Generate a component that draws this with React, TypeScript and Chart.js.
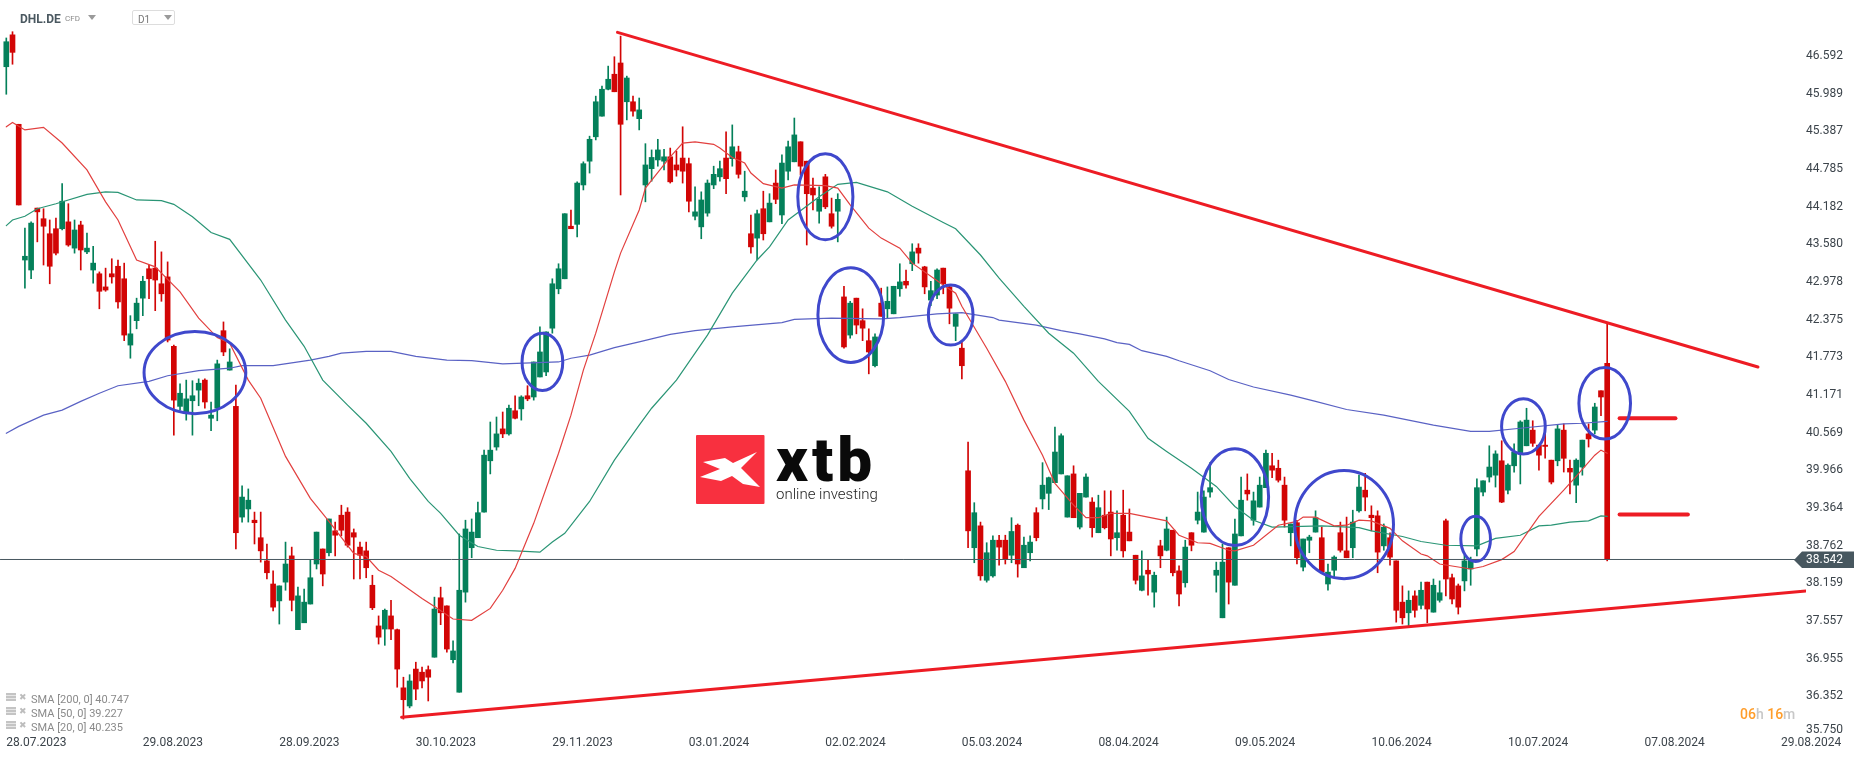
import { useEffect, useRef } from "react";
import Chart from "chart.js/auto";

// daily candles (index 0 = 28.07.2023)
const opens = [
  46.42, 46.93, 45.5, 43.33, 43.17, 44.16, 43.99, 43.75, 43.83, 43.83,
  43.94, 43.52, 43.89, 43.46, 43.17, 43.11, 42.9, 43.11, 43.23, 43.03,
  41.97, 42.36, 42.72, 43.19, 43.2, 42.95, 43.06, 41.95, 40.99, 40.88,
  41.08, 41.25, 41.41, 40.8, 40.96, 42.2, 41.57, 40.99, 39.22, 39.35,
  39.17, 38.89, 38.52, 38.15, 37.88, 38.18, 38.6, 37.42, 37.53, 37.83,
  38.47, 38.71, 38.65, 39.0, 39.25, 39.3, 38.97, 38.74, 38.68, 38.13,
  37.48, 37.43, 37.64, 37.42, 36.49, 36.2, 36.79, 36.74, 36.78, 36.98,
  37.93, 37.8, 36.94, 36.42, 38.02, 38.73, 38.89, 39.3, 40.12, 40.34,
  40.63, 40.55, 40.92, 40.95, 41.16, 41.14, 41.46, 41.54, 42.24, 42.87,
  43.03, 43.87, 43.9, 44.53, 44.91, 45.3, 45.63, 46.06, 46.3, 46.48,
  45.86, 45.86, 45.59, 44.53, 44.79, 44.93, 44.91, 44.98, 44.85, 44.96,
  44.87, 44.03, 43.86, 44.08, 44.53, 44.66, 44.96, 44.95, 45.06, 44.34,
  43.75, 43.68, 44.15, 43.94, 44.56, 44.05, 44.75, 44.9, 45.22, 44.91,
  44.48, 44.11, 44.66, 44.07, 44.11, 42.74, 42.13, 42.72, 42.36, 42.04,
  41.64, 42.64, 42.55, 42.47, 42.87, 42.99, 43.27, 43.52, 43.22, 42.69,
  42.77, 43.2, 42.9, 42.27, 41.92, 39.96, 38.73, 39.08, 38.21, 38.28,
  38.85, 38.85, 38.61, 39.09, 38.41, 38.65, 39.29, 39.51, 39.6, 39.77,
  39.91, 39.22, 39.91, 39.06, 39.54, 39.46, 38.97, 39.25, 39.3, 38.89,
  39.25, 38.98, 38.61, 38.05, 38.37, 38.02, 38.76, 38.69, 39.01, 38.36,
  38.17, 38.97, 39.17, 38.98, 39.62, 38.29, 37.61, 38.73, 38.13, 38.92,
  39.65, 39.17, 39.38, 39.69, 40.04, 40.0, 39.73, 38.97, 39.13, 38.42,
  38.85, 38.98, 38.89, 38.15, 38.37, 38.97, 38.68, 38.73, 39.32, 39.65,
  39.25, 39.24, 38.76, 38.89, 38.52, 37.86, 37.69, 37.96, 37.81, 38.18,
  37.7, 37.89, 39.16, 38.25, 38.12, 38.2, 38.39, 38.71, 39.62, 39.86,
  39.89, 40.12, 39.65, 40.04, 40.23, 40.36, 40.61, 40.37, 40.37, 40.13,
  40.12, 40.61, 40.0, 39.73, 40.02, 40.55, 40.61, 41.24, 41.68,
];
const highs = [
  46.88, 46.98, 45.5, 43.84, 43.94, 44.16, 44.15, 43.97, 44.0, 44.55,
  44.23, 43.97, 43.95, 43.76, 43.55, 43.14, 43.2, 43.35, 43.33, 43.28,
  42.44, 42.72, 43.07, 43.25, 43.63, 43.46, 43.3, 41.97, 41.35, 41.41,
  41.4, 41.43, 41.43, 41.06, 41.73, 42.34, 41.91, 41.33, 39.72, 39.67,
  39.3, 39.3, 38.79, 38.36, 38.12, 38.82, 38.74, 38.1, 38.07, 38.53,
  38.98, 38.71, 39.19, 39.14, 39.41, 39.37, 39.03, 38.82, 38.82, 38.29,
  37.64, 37.75, 37.89, 37.43, 36.66, 36.7, 36.9, 36.82, 36.84, 37.94,
  38.1, 37.8, 37.24, 38.95, 39.17, 39.19, 39.46, 40.29, 40.74, 40.82,
  40.9, 41.01, 41.16, 41.16, 41.32, 41.7, 42.26, 42.18, 43.03, 43.27,
  44.07, 44.13, 44.58, 44.9, 45.31, 45.95, 46.11, 46.43, 46.58, 46.91,
  46.27, 45.95, 45.92, 45.19, 45.09, 45.26, 45.1, 45.12, 45.07, 45.46,
  44.96, 44.5, 44.42, 44.61, 44.83, 44.91, 45.38, 45.49, 45.15, 44.75,
  44.05, 44.13, 44.43, 44.39, 44.77, 45.01, 45.23, 45.6, 45.22, 44.91,
  44.64, 44.5, 44.7, 44.32, 44.39, 42.91, 42.67, 42.72, 42.55, 42.23,
  42.15, 42.88, 42.9, 42.91, 43.27, 43.17, 43.59, 43.59, 43.23, 42.99,
  43.19, 43.2, 42.93, 42.47, 42.04, 40.42, 39.45, 39.14, 38.81, 38.92,
  38.93, 38.93, 39.21, 39.11, 38.9, 38.92, 39.37, 40.09, 39.86, 40.66,
  40.55, 39.88, 40.04, 39.6, 39.91, 39.53, 39.57, 39.64, 39.64, 39.32,
  39.65, 39.35, 38.61, 38.68, 38.53, 38.34, 38.85, 39.22, 39.01, 38.44,
  38.85, 38.97, 39.62, 39.64, 40.09, 38.5, 38.79, 38.73, 39.19, 39.86,
  39.91, 39.62, 39.86, 40.29, 40.24, 40.13, 39.86, 39.11, 39.17, 38.87,
  38.93, 39.32, 39.06, 38.47, 38.6, 39.14, 39.22, 39.33, 39.89, 39.92,
  39.4, 39.32, 39.11, 38.97, 38.52, 38.12, 38.04, 38.04, 38.18, 38.18,
  38.23, 38.2, 39.19, 38.31, 38.15, 38.61, 38.58, 39.83, 39.8, 40.36,
  40.28, 40.44, 40.07, 40.39, 40.76, 40.96, 40.76, 40.37, 40.61, 40.13,
  40.69, 40.71, 40.13, 40.15, 40.45, 40.71, 41.04, 41.24, 42.32,
];
const lows = [
  45.98, 46.46, 44.21, 42.88, 43.03, 43.62, 43.25, 42.95, 43.41, 43.81,
  43.55, 43.44, 43.17, 43.43, 42.96, 42.55, 42.83, 42.96, 42.56, 42.04,
  41.76, 42.23, 42.44, 42.71, 42.52, 42.67, 42.02, 40.53, 40.93, 40.77,
  40.53, 41.0, 40.96, 40.6, 40.76, 41.8, 41.57, 38.71, 39.14, 39.14,
  38.79, 38.5, 38.23, 37.72, 37.51, 38.05, 37.72, 37.42, 37.53, 37.83,
  38.39, 38.12, 38.6, 38.6, 38.92, 38.74, 38.23, 38.23, 38.25, 37.74,
  37.19, 37.17, 37.26, 36.5, 35.99, 36.17, 36.3, 36.49, 36.28, 36.98,
  37.5, 37.06, 36.89, 36.42, 37.86, 38.57, 38.89, 39.3, 39.91, 40.29,
  40.49, 40.53, 40.79, 40.77, 41.08, 41.09, 41.46, 41.48, 42.16, 42.79,
  43.03, 43.83, 43.7, 44.45, 44.72, 45.25, 45.63, 46.05, 46.02, 44.37,
  45.57, 45.63, 45.41, 44.26, 44.59, 44.83, 44.77, 44.56, 44.67, 44.56,
  44.1, 43.97, 43.67, 44.03, 44.47, 44.59, 44.39, 44.83, 44.64, 44.27,
  43.44, 43.33, 43.65, 43.94, 44.23, 43.91, 44.61, 44.9, 44.69, 43.57,
  44.13, 43.92, 44.15, 43.84, 43.62, 41.92, 42.08, 42.15, 42.04, 41.51,
  41.62, 42.43, 42.4, 42.47, 42.75, 42.88, 43.16, 43.28, 42.79, 42.6,
  42.71, 42.79, 42.31, 42.04, 41.43, 38.73, 38.49, 38.21, 38.18, 38.26,
  38.45, 38.47, 38.49, 38.26, 38.41, 38.52, 38.84, 39.35, 39.34, 39.77,
  39.91, 39.22, 39.21, 39.03, 39.54, 38.9, 38.97, 39.03, 38.6, 38.69,
  38.58, 38.84, 38.15, 38.04, 37.97, 37.78, 38.41, 38.68, 38.28, 37.8,
  38.1, 38.68, 39.11, 38.98, 39.54, 38.02, 37.61, 37.83, 38.13, 38.92,
  39.49, 39.09, 39.38, 39.69, 39.85, 39.78, 39.06, 38.76, 38.47, 38.36,
  38.65, 38.98, 38.34, 38.05, 38.26, 38.66, 38.57, 38.57, 39.3, 39.32,
  39.0, 38.33, 38.69, 38.45, 37.54, 37.51, 37.48, 37.62, 37.75, 37.53,
  37.7, 37.86, 37.96, 37.83, 37.67, 38.04, 38.13, 38.6, 39.56, 39.78,
  39.7, 39.45, 39.59, 39.94, 39.75, 40.36, 40.35, 39.97, 40.16, 39.75,
  40.04, 39.94, 39.59, 39.45, 39.89, 40.34, 40.55, 40.84, 38.52,
];
const closes = [
  46.82, 46.65, 44.21, 43.39, 43.92, 44.1, 43.87, 43.23, 43.44, 44.27,
  43.57, 43.81, 43.49, 43.52, 43.28, 42.83, 42.85, 43.06, 42.66, 42.13,
  42.15, 42.64, 42.99, 43.03, 43.01, 42.79, 42.05, 41.09, 41.2, 41.11,
  41.16, 41.36, 41.06, 40.85, 41.67, 41.86, 41.7, 38.97, 39.54, 39.49,
  39.13, 38.68, 38.33, 37.78, 38.12, 38.47, 37.89, 37.96, 37.86, 38.25,
  38.98, 38.31, 39.19, 38.93, 39.01, 38.77, 38.9, 38.61, 38.41, 37.77,
  37.3, 37.73, 37.43, 36.79, 36.3, 36.6, 36.47, 36.6, 36.66, 37.75,
  37.69, 37.11, 37.08, 38.05, 39.03, 38.98, 39.29, 40.21, 40.29, 40.55,
  40.55, 40.96, 40.8, 41.14, 41.11, 41.7, 41.86, 42.18, 42.95, 43.19,
  44.07, 43.83, 44.56, 44.87, 45.26, 45.86, 46.06, 46.22, 46.02, 45.5,
  46.24, 45.71, 45.73, 44.85, 44.97, 45.09, 44.98, 44.58, 44.77, 44.75,
  44.27, 44.1, 44.29, 44.56, 44.7, 44.79, 44.63, 45.14, 44.7, 44.43,
  43.54, 44.07, 43.75, 44.24, 44.3, 44.88, 45.14, 45.33, 44.83, 44.39,
  44.37, 44.3, 44.18, 43.87, 44.3, 41.94, 42.64, 42.29, 42.24, 41.86,
  42.1, 42.43, 42.67, 42.91, 42.98, 42.93, 43.46, 43.44, 42.9, 42.84,
  43.17, 42.95, 42.56, 42.47, 41.64, 39.0, 39.29, 38.28, 38.65, 38.85,
  38.74, 38.55, 38.99, 38.47, 38.77, 38.82, 38.89, 39.73, 39.85, 40.26,
  40.52, 39.88, 39.21, 39.6, 39.86, 39.05, 39.37, 39.05, 38.87, 38.97,
  38.68, 38.84, 38.21, 38.28, 38.31, 38.29, 38.6, 39.03, 38.33, 37.99,
  38.74, 38.77, 39.3, 39.54, 39.69, 38.37, 38.5, 38.18, 38.95, 39.49,
  39.59, 39.48, 39.73, 40.24, 39.97, 39.81, 39.17, 39.11, 38.57, 38.87,
  38.9, 39.21, 38.34, 38.34, 38.58, 38.69, 38.57, 39.14, 39.7, 39.54,
  39.21, 38.66, 39.06, 38.58, 37.73, 37.61, 37.89, 37.73, 38.05, 37.75,
  38.13, 38.01, 38.23, 37.91, 37.78, 38.52, 38.53, 39.69, 39.8, 40.02,
  40.23, 39.46, 40.05, 40.26, 40.74, 40.77, 40.4, 40.21, 40.35, 39.78,
  40.63, 40.16, 39.94, 40.13, 40.45, 40.47, 40.98, 41.14, 38.55,
];

const sma20Index = [
  0, 1, 3, 6, 9, 13, 16, 18, 21, 24, 28, 31, 34, 36, 39, 41, 45, 49, 52, 56, 58, 60, 62, 67, 69, 72, 75,
  78, 80, 82, 85, 89, 91, 93, 95, 98, 99, 102, 103, 107, 109, 111, 114, 115, 117, 119, 120, 122, 125, 127,
  132, 134, 136, 139, 141, 144, 146, 151, 153, 154, 158, 161, 164, 167, 169, 172, 174, 176, 178, 181, 183,
  187, 189, 192, 194, 197, 198, 201, 205, 208, 209, 211, 214, 216, 218, 220, 223, 225, 228, 229, 231, 236,
  238, 241, 243, 247, 251, 253, 256, 257, 258,
];
const sma20Values = [
  45.46, 45.53, 45.41, 45.45, 45.2, 44.77, 44.26, 43.97, 43.33, 43.22, 42.82, 42.4, 42.09, 42.0, 41.41, 41.12, 40.19, 39.52, 39.15, 38.64, 38.59, 38.37, 38.27, 37.92, 37.79, 37.59, 37.57,
  37.76, 38.05, 38.4, 39.12, 40.24, 40.85, 41.57, 42.16, 43.14, 43.44, 44.13, 44.48, 44.98, 45.2, 45.22, 45.18, 45.12, 44.97, 44.88, 44.72, 44.55, 44.48, 44.53,
  44.52, 44.48, 44.21, 43.84, 43.68, 43.52, 43.28, 42.93, 42.8, 42.59, 41.92, 41.39, 40.77, 40.21, 39.76, 39.41, 39.21, 39.21, 39.28, 39.28, 39.24,
  39.16, 38.93, 38.81, 38.8, 38.69, 38.68, 38.77, 39.09, 39.15, 39.22, 39.22, 39.08, 39.09, 39.17, 39.16, 39.04, 38.84, 38.63, 38.6, 38.47, 38.39,
  38.43, 38.54, 38.67, 39.23, 39.65, 39.87, 40.21, 40.29, 40.24,
];

const sma50Index = [
  0, 1, 3, 5, 8, 13, 16, 18, 21, 25, 27, 30, 33, 36, 41, 45, 48, 51, 55, 58, 62, 65, 68, 70, 73, 76, 79, 82,
  86, 88, 90, 94, 98, 102, 104, 108, 113, 117, 121, 123, 126, 131, 134, 137, 142, 146, 151, 153, 157, 160,
  164, 168, 172, 176, 181, 184, 187, 191, 195, 198, 201, 204, 212, 218, 220, 225, 228, 232, 237, 240, 244,
  247, 249, 252, 255, 257, 258,
];
const sma50Values = [
  43.88, 43.97, 44.03, 44.15, 44.23, 44.38, 44.42, 44.41, 44.29, 44.28, 44.22, 44.02, 43.77, 43.66, 43.01, 42.37, 41.95, 41.41, 41.01, 40.72, 40.27, 39.84, 39.47, 39.28, 38.93, 38.75, 38.69, 38.68,
  38.66, 38.82, 38.96, 39.47, 40.13, 40.69, 40.96, 41.41, 42.13, 42.8, 43.33, 43.54, 43.97, 44.34, 44.54, 44.57, 44.42, 44.19, 43.93, 43.83, 43.41, 43.04,
  42.59, 42.16, 41.84, 41.39, 40.91, 40.48, 40.27, 40.0, 39.71, 39.39, 39.17, 39.06, 39.08, 39.05, 39.0, 38.91, 38.83, 38.77, 38.76, 38.88, 38.93,
  39.08, 39.09, 39.14, 39.16, 39.24, 39.23,
];

const sma200Index = [
  0, 2, 6, 9, 12, 15, 18, 23, 26, 31, 36, 38, 43, 49, 52, 54, 58, 62, 66, 71, 75, 80, 89, 91, 94, 98, 102,
  107, 111, 117, 125, 127, 133, 141, 144, 150, 154, 159, 160, 166, 170, 173, 177, 179, 181, 183, 187, 189,
  194, 197, 201, 207, 211, 216, 222, 226, 230, 236, 239, 244, 251, 254, 258,
];
const sma200Values = [
  40.56, 40.67, 40.85, 40.93, 41.07, 41.2, 41.32, 41.39, 41.48, 41.56, 41.6, 41.64, 41.64, 41.73, 41.79, 41.84, 41.87, 41.87, 41.79, 41.73, 41.72, 41.67, 41.7, 41.76, 41.81, 41.93, 42.02,
  42.14, 42.2, 42.26, 42.33, 42.38, 42.4, 42.39, 42.41, 42.47, 42.49, 42.41, 42.37, 42.29, 42.2, 42.15, 42.07, 42.01, 41.98, 41.88, 41.79, 41.72,
  41.56, 41.42, 41.3, 41.17, 41.07, 40.94, 40.85, 40.77, 40.69, 40.59, 40.59, 40.64, 40.71, 40.72, 40.75,
];

// hand drawn annotations, in candle index / price
const upperTrendIndex = [98.5, 282.3];
const upperTrendPrice = [46.97, 41.62];
const lowerTrendIndex = [63.7, 290];
const lowerTrendPrice = [36.02, 38.04];
const shortLineIndex = [260, 269];
const shortLinePrice = [40.8, 40.8];
const longLineIndex = [260, 271];
const longLinePrice = [39.26, 39.26];
const ellipseIndex = [30.4, 86.4, 132, 136.1, 152.2, 198, 215.6, 236.8, 244.5, 257.6];
const ellipsePrice = [41.53, 41.7, 44.34, 42.45, 42.45, 39.54, 39.1, 38.87, 40.67, 41.04];
const ellipseRadiusIndex = [8.2, 3.28, 4.44, 5.3, 3.6, 5.43, 7.96, 2.39, 3.52, 4.16];
const ellipseRadiusPrice = [0.656, 0.458, 0.687, 0.757, 0.48, 0.773, 0.865, 0.362, 0.442, 0.573];

const lastPrice = 38.542;
const xTickIndex = [0, 22, 44, 66, 88, 110, 132, 154, 176, 198, 220, 242, 264, 286];
const xTickLabels = [
  "28.07.2023", "29.08.2023", "28.09.2023", "30.10.2023", "29.11.2023", "03.01.2024", "02.02.2024",
  "05.03.2024", "08.04.2024", "09.05.2024", "10.06.2024", "10.07.2024", "07.08.2024", "29.08.2024",
];
const yTickValues = [
  46.592, 45.989, 45.387, 44.785, 44.182, 43.58, 42.978, 42.375, 41.773, 41.171, 40.569, 39.966, 39.364,
  38.762, 38.159, 37.557, 36.955, 36.352, 35.82,
];
const yTickLabels = [
  "46.592", "45.989", "45.387", "44.785", "44.182", "43.580", "42.978", "42.375", "41.773", "41.171",
  "40.569", "39.966", "39.364", "38.762", "38.159", "37.557", "36.955", "36.352", "35.750",
];
const smaLegend = ["SMA [200, 0] 40.747", "SMA [50, 0] 39.227", "SMA [20, 0] 40.235"];

const GREEN = "#04805a";
const RED = "#d20505";
const FONT = "Roboto, sans-serif";

const toPoints = (xs: number[], ys: number[]) => xs.map((x, i) => ({ x, y: ys[i] }));
const candleColors = opens.map((o, i) => (closes[i] >= o ? GREEN : RED));

const line = (data: { x: number; y: number }[], color: string, width: number, order: number) => ({
  type: "line" as const,
  data,
  borderColor: color,
  borderWidth: width,
  pointRadius: 0,
  tension: 0,
  order,
  borderCapStyle: "round" as const,
});

// blue circles and the price badge, placed through the chart's own scales
const overlayPlugin = {
  id: "overlay",
  afterDatasetsDraw(chart: any) {
    const { ctx, scales } = chart;
    const { x, y } = scales;
    ctx.save();
    ctx.strokeStyle = "#3f48cc";
    ctx.lineWidth = 3;
    ellipseIndex.forEach((cx, i) => {
      const px = x.getPixelForValue(cx);
      const py = y.getPixelForValue(ellipsePrice[i]);
      const rx = Math.abs(x.getPixelForValue(cx + ellipseRadiusIndex[i]) - px);
      const ry = Math.abs(y.getPixelForValue(ellipsePrice[i] + ellipseRadiusPrice[i]) - py);
      ctx.beginPath();
      ctx.ellipse(px, py, rx, ry, 0, 0, Math.PI * 2);
      ctx.stroke();
    });
    ctx.restore();
  },
  afterDraw(chart: any) {
    const { ctx, scales } = chart;
    const py = scales.y.getPixelForValue(lastPrice);
    ctx.save();
    ctx.fillStyle = "#47575f";
    ctx.beginPath();
    ctx.moveTo(1794, py + 0.5);
    ctx.lineTo(1802, py - 8);
    ctx.lineTo(1854, py - 8);
    ctx.lineTo(1854, py + 8.5);
    ctx.lineTo(1802, py + 8.5);
    ctx.closePath();
    ctx.fill();
    ctx.fillStyle = "#ffffff";
    ctx.font = `12px ${FONT}`;
    ctx.textBaseline = "middle";
    ctx.fillText(lastPrice.toFixed(3), 1806, py + 1);
    ctx.restore();
  },
};

const text = (style: React.CSSProperties) => ({
  position: "absolute" as const,
  fontFamily: FONT,
  whiteSpace: "nowrap" as const,
  lineHeight: 1,
  ...style,
});

function Caret({ left, top }: { left: number; top: number }) {
  return (
    <svg style={{ position: "absolute", left, top }} width="8" height="5">
      <polygon points="0,0 8,0 4,5" fill="#9a9a9a" />
    </svg>
  );
}

export default function App() {
  const canvasRef = useRef<HTMLCanvasElement>(null);

  useEffect(() => {
    if (!canvasRef.current) return;
    const chart = new Chart(canvasRef.current, {
      type: "bar",
      data: {
        datasets: [
          line(toPoints(upperTrendIndex, upperTrendPrice), "#ed1c24", 3, 1),
          line(toPoints(lowerTrendIndex, lowerTrendPrice), "#ed1c24", 3, 1),
          line(toPoints(shortLineIndex, shortLinePrice), "#ed1c24", 4, 1),
          line(toPoints(longLineIndex, longLinePrice), "#ed1c24", 4, 1),
          line(toPoints([-1, 290], [lastPrice, lastPrice]), "#47575f", 1, 2),
          line(toPoints(sma20Index, sma20Values), "#e2403f", 1.2, 3),
          line(toPoints(sma50Index, sma50Values), "#2a9575", 1.2, 3),
          line(toPoints(sma200Index, sma200Values), "#5a62c4", 1.2, 3),
          {
            type: "bar" as const,
            data: opens.map((o, i) => ({ x: i, y: [o, closes[i]] })),
            backgroundColor: candleColors,
            barThickness: 5,
            grouped: false,
            order: 4,
          },
          {
            type: "bar" as const,
            data: lows.map((l, i) => ({ x: i, y: [l, highs[i]] })),
            backgroundColor: candleColors,
            barThickness: 1,
            grouped: false,
            order: 5,
          },
        ] as any,
      },
      options: {
        responsive: false,
        animation: false,
        layout: { padding: 0 },
        plugins: { legend: { display: false }, tooltip: { enabled: false } },
        scales: {
          x: {
            type: "linear",
            offset: false,
            min: -1.015,
            max: 290.04,
            grid: { display: false, drawTicks: false },
            border: { display: false },
            afterFit: (scale: any) => {
              scale.height = 23;
              scale.paddingLeft = 0;
              scale.paddingRight = 0;
            },
            afterBuildTicks: (scale: any) => {
              scale.ticks = xTickIndex.map((value) => ({ value }));
            },
            ticks: {
              autoSkip: false,
              maxRotation: 0,
              align: "start",
              padding: 0,
              color: "#3c444b",
              font: { family: FONT, size: 12 },
              callback: (_v: any, i: number) => xTickLabels[i],
            },
          },
          y: {
            position: "right",
            min: 35.72,
            max: 47.487,
            grid: { display: false, drawTicks: false },
            border: { display: false },
            afterFit: (scale: any) => {
              scale.width = 60;
              scale.paddingTop = 0;
              scale.paddingBottom = 0;
            },
            afterBuildTicks: (scale: any) => {
              scale.ticks = yTickValues.map((value) => ({ value }));
            },
            ticks: {
              autoSkip: false,
              padding: 0,
              color: "#3c444b",
              font: { family: FONT, size: 12 },
              callback: (_v: any, i: number) => yTickLabels[i],
            },
          },
        },
      } as any,
      plugins: [overlayPlugin],
    });
    return () => chart.destroy();
  }, []);

  return (
    <div style={{ position: "fixed", left: 0, top: 0, width: 1866, height: 759, background: "#fff", overflow: "hidden" }}>
      <canvas ref={canvasRef} width={1866} height={759} style={{ position: "absolute", left: 0, top: 0 }} />

      <div style={text({ left: 20, top: 13, fontSize: 12, fontWeight: 700, color: "#4a5860" })}>DHL.DE</div>
      <div style={text({ left: 65, top: 15, fontSize: 8, color: "#8a8a8a" })}>CFD</div>
      <Caret left={88} top={15} />
      <div
        style={{
          position: "absolute",
          left: 132,
          top: 10,
          width: 43,
          height: 15,
          border: "1px solid #dddddd",
          borderRadius: 2,
          boxSizing: "border-box",
        }}
      />
      <div style={text({ left: 138, top: 15, fontSize: 10, color: "#777777" })}>D1</div>
      <Caret left={164} top={15} />

      {smaLegend.map((label, i) => (
        <div key={label}>
          <div
            style={{
              position: "absolute",
              left: 6,
              top: 693 + i * 14,
              width: 10,
              height: 8,
              background: "repeating-linear-gradient(#c4c4c4 0 2px, #e6e6e6 2px 3px)",
            }}
          />
          <div style={text({ left: 19, top: 693 + i * 14, fontSize: 9, color: "#bdbdbd", fontFamily: "DejaVu Sans" })}>✖</div>
          <div style={text({ left: 31, top: 694 + i * 14, fontSize: 11, color: "#8a8a8a" })}>{label}</div>
        </div>
      ))}

      <svg style={{ position: "absolute", left: 696, top: 435 }} width="69" height="69">
        <rect width="68.5" height="69" rx="1" fill="#f8303f" />
        <polygon
          points="7,27 29,23 37,28 61,17 45,33 64,52 47,49 36,41 25,46 4,42 24,34"
          fill="#ffffff"
        />
      </svg>
      <div style={text({ left: 776, top: 429, fontSize: 62, fontWeight: 900, color: "#0a0a0a", letterSpacing: 4 })}>xtb</div>
      <div style={text({ left: 776, top: 487, fontSize: 15, fontWeight: 300, color: "#222222" })}>online investing</div>

      <div style={text({ left: 1740, top: 707, fontSize: 14, fontWeight: 500, color: "#ff9d2a" })}>
        06<span style={{ color: "#c8c8c8" }}>h</span> 16<span style={{ color: "#c8c8c8" }}>m</span>
      </div>
    </div>
  );
}
